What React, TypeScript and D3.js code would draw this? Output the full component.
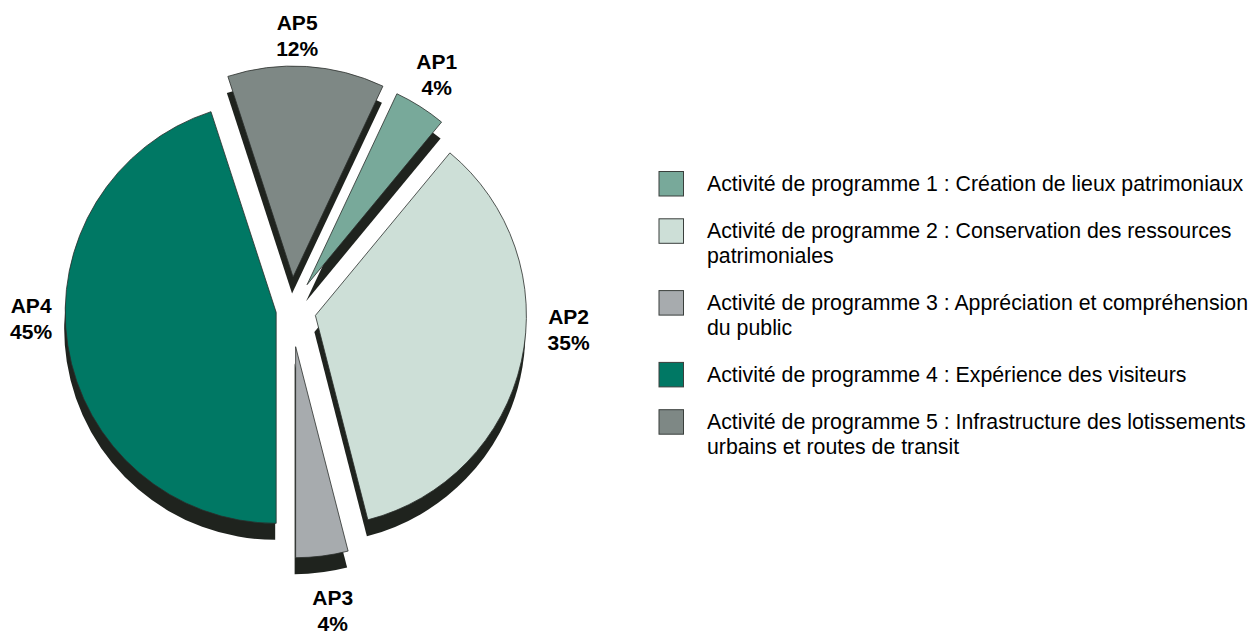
import React from "react";
import * as d3 from "d3";

// ---- data ----
const categories = ["AP1", "AP2", "AP3", "AP4", "AP5"];
const values = [4, 35, 4, 45, 12];
const percentLabels = ["4%", "35%", "4%", "45%", "12%"];
const legendLines: string[][] = [
  ["Activité de programme 1 : Création de lieux patrimoniaux"],
  ["Activité de programme 2 : Conservation des ressources", "patrimoniales"],
  ["Activité de programme 3 : Appréciation et compréhension", "du public"],
  ["Activité de programme 4 : Expérience des visiteurs"],
  ["Activité de programme 5 : Infrastructure des lotissements", "urbains et routes de transit"],
];

// ---- styles / layout ----
const colors = ["#78a99a", "#cddfd7", "#a7abae", "#007864", "#7e8885"];
const shadowColor = "#1f231e";
const explode = [30, 25, 37, 15, 33];
const labelNudge: [number, number][] = [
  [1, -13],
  [19, -43.5],
  [7, 20],
  [-8, -36.4],
  [-11, -8],
];
const W = 1251;
const H = 632;
const CX = 291;
const CY = 310;
const R = 211;
const LABEL_R = 240;
const SHADOW_DX = -1;
const SHADOW_DY = 16.5;
const FONT = "'Liberation Sans', Arial, Helvetica, sans-serif";

export default function App() {
  const total = d3.sum(values);
  const before = d3.sum(values.slice(0, 3));
  const start = Math.PI - (before / total) * 2 * Math.PI;
  const pie = d3
    .pie<number>()
    .sort(null)
    .value((d) => d)
    .startAngle(start)
    .endAngle(start + 2 * Math.PI);
  const arcs = pie(values);
  const arcGen = d3.arc<d3.PieArcDatum<number>>().innerRadius(0).outerRadius(R);

  const slices = arcs.map((a, i) => {
    const mid = (a.startAngle + a.endAngle) / 2;
    const ux = Math.sin(mid);
    const uy = -Math.cos(mid);
    const ox = CX + explode[i] * ux;
    const oy = CY + explode[i] * uy;
    const lx = ox + LABEL_R * ux + labelNudge[i][0];
    const ly = oy + LABEL_R * uy + labelNudge[i][1];
    return { a, i, ox, oy, lx, ly, path: arcGen(a) || "" };
  });

  const legendX = 659;
  const legendTextX = 707;
  const rowStep = 47.3;
  const lineH = 24.5;
  let baseline = 191;
  const legendRows = legendLines.map((lines, i) => {
    const row = { lines, i, baseline };
    baseline += rowStep + (lines.length - 1) * lineH;
    return row;
  });

  return (
    <div style={{ position: "fixed", left: 0, top: 0, width: W, height: H, background: "#fff" }}>
      <svg width={W} height={H} viewBox={`0 0 ${W} ${H}`} style={{ display: "block" }}>
        <rect width={W} height={H} fill="#fff" />
        {slices.map((s) => (
          <path
            key={"sh" + s.i}
            d={s.path}
            transform={`translate(${s.ox + SHADOW_DX},${s.oy + SHADOW_DY})`}
            fill={shadowColor}
          />
        ))}
        {slices.map((s) => (
          <path
            key={"sl" + s.i}
            d={s.path}
            transform={`translate(${s.ox},${s.oy})`}
            fill={colors[s.i]}
            stroke="#2b2f2c"
            strokeWidth={0.8}
            strokeLinejoin="miter"
          />
        ))}
        {slices.map((s) => (
          <text
            key={"lb" + s.i}
            x={s.lx}
            y={s.ly}
            textAnchor="middle"
            fontFamily={FONT}
            fontWeight="bold"
            fontSize={21}
            fill="#000"
          >
            <tspan x={s.lx} y={s.ly}>{categories[s.i]}</tspan>
            <tspan x={s.lx} y={s.ly + 26}>{percentLabels[s.i]}</tspan>
          </text>
        ))}
        {legendRows.map((r) => (
          <g key={"lg" + r.i}>
            <rect
              x={legendX}
              y={r.baseline - 19.5}
              width={24.5}
              height={24.5}
              fill={colors[r.i]}
              stroke="#3a3f3c"
              strokeWidth={1}
            />
            <text fontFamily={FONT} fontSize={21.3} fill="#000">
              {r.lines.map((ln, k) => (
                <tspan key={k} x={legendTextX} y={r.baseline + k * lineH}>
                  {ln}
                </tspan>
              ))}
            </text>
          </g>
        ))}
      </svg>
    </div>
  );
}
